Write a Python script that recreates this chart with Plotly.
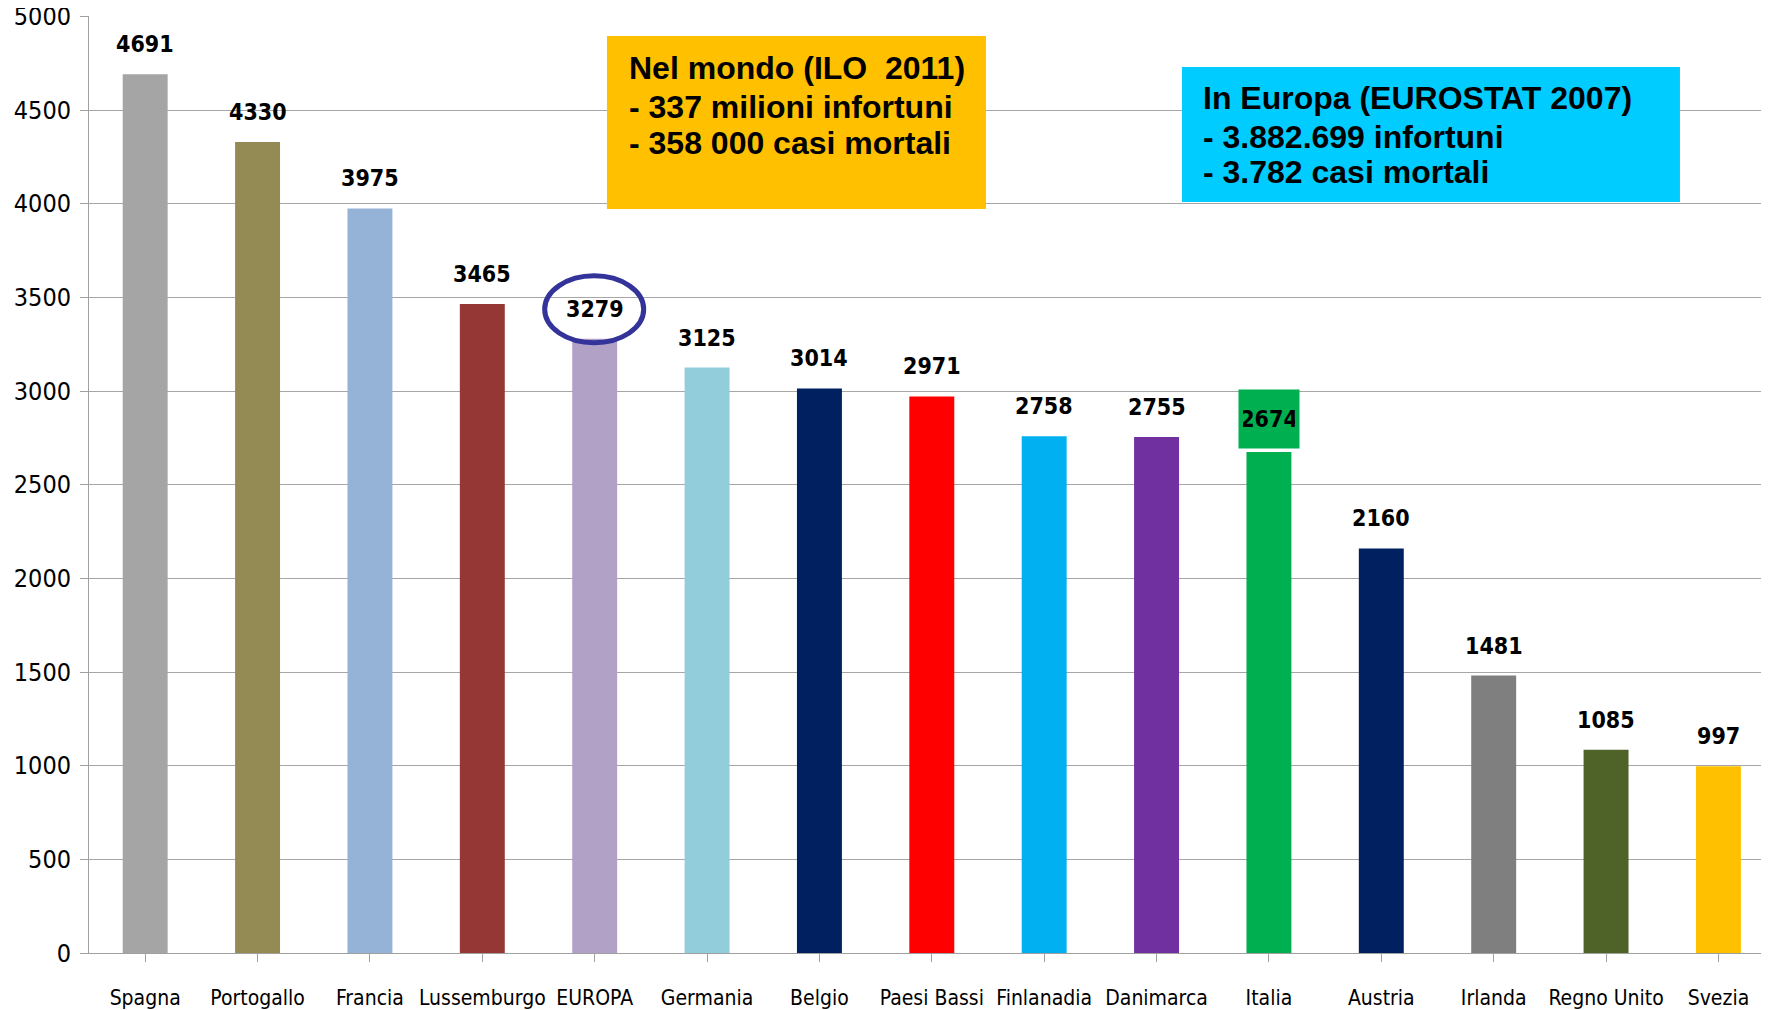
import plotly.graph_objects as go

# Dati
paesi = ["Spagna", "Portogallo", "Francia", "Lussemburgo", "EUROPA", "Germania",
         "Belgio", "Paesi Bassi", "Finlanadia", "Danimarca", "Italia", "Austria",
         "Irlanda", "Regno Unito", "Svezia"]
valori = [4691, 4330, 3975, 3465, 3279, 3125, 3014, 2971, 2758, 2755, 2674, 2160,
          1481, 1085, 997]
colori = ["#A5A5A5", "#948A54", "#95B3D7", "#953735", "#B2A1C7", "#92CDDC",
          "#002060", "#FF0000", "#00B0F0", "#7030A0", "#00B050", "#002060",
          "#7F7F7F", "#4F6228", "#FFC000"]
y_ticks = [0, 500, 1000, 1500, 2000, 2500, 3000, 3500, 4000, 4500, 5000]

righe_mondo = ["Nel mondo (ILO  2011)", "- 337 milioni infortuni", "- 358 000 casi mortali"]
righe_europa = ["In Europa (EUROSTAT 2007)", "- 3.882.699 infortuni", "- 3.782 casi mortali"]

FONT_NARROW = "DejaVu Sans Condensed, Liberation Sans Narrow, Roboto, sans-serif"
FONT_BOX = "Liberation Sans, Arial, sans-serif"

fig = go.Figure()

fig.add_bar(
    x=list(range(len(paesi))),
    y=valori,
    width=0.4,
    marker=dict(color=colori, line=dict(width=0)),
    showlegend=False,
)

# etichette dei valori
for i, v in enumerate(valori):
    if paesi[i] == "Italia":
        fig.add_annotation(
            x=i, y=v, text=f"<b>{v}</b>", showarrow=False,
            yanchor="middle", yshift=33,
            bgcolor="#00B050", width=52, height=50, borderpad=4,
            font=dict(family=FONT_NARROW, size=23, color="black"),
        )
    else:
        fig.add_annotation(
            x=i, y=v, text=f"<b>{v}</b>", showarrow=False,
            yanchor="middle", yshift=30,
            font=dict(family=FONT_NARROW, size=23, color="black"),
        )

# cerchio su EUROPA
i_eu = paesi.index("EUROPA")
fig.add_shape(
    type="circle", xref="x", yref="y",
    xsizemode="pixel", ysizemode="pixel",
    xanchor=i_eu, yanchor=valori[i_eu],
    x0=-50, x1=49, y0=-4, y1=63,
    line=dict(color="#333399", width=5),
)

# riquadri di testo
fig.add_shape(type="rect", xref="paper", yref="paper",
              x0=0.3083, x1=0.5339, y0=0.7940, y1=0.9787,
              fillcolor="#FFC000", line=dict(width=0))
for riga, ypos in zip(righe_mondo, [0.9445, 0.9029, 0.8645]):
    fig.add_annotation(xref="paper", yref="paper", x=0.3202, y=ypos,
                       xanchor="left", yanchor="middle", showarrow=False,
                       text=f"<b>{riga}</b>",
                       font=dict(family=FONT_BOX, size=32, color="black"))

fig.add_shape(type="rect", xref="paper", yref="paper",
              x0=0.6506, x1=0.9470, y0=0.8015, y1=0.9456,
              fillcolor="#00CCFF", line=dict(width=0))
for riga, ypos in zip(righe_europa, [0.9125, 0.8709, 0.8335]):
    fig.add_annotation(xref="paper", yref="paper", x=0.6619, y=ypos,
                       xanchor="left", yanchor="middle", showarrow=False,
                       text=f"<b>{riga}</b>",
                       font=dict(family=FONT_BOX, size=32, color="black"))

fig.update_layout(
    width=1761,
    height=1002,
    plot_bgcolor="white",
    paper_bgcolor="white",
    margin=dict(l=81, r=0, t=8, b=57),
)

fig.update_xaxes(
    tickmode="array",
    tickvals=list(range(len(paesi))),
    ticktext=paesi,
    range=[-0.5, 14.45],
    tickangle=0,
    automargin=False,
    ticklabeloverflow="allow",
    showgrid=False,
    showline=True,
    linecolor="#A0A0A0",
    linewidth=1,
    ticks="outside",
    tickson="boundaries",
    ticklen=8,
    tickcolor="#A0A0A0",
    ticklabelstandoff=18,
    tickfont=dict(family=FONT_NARROW, size=21, color="black"),
)

fig.update_yaxes(
    range=[0, 5002],
    tickvals=y_ticks,
    automargin=False,
    ticklabeloverflow="allow",
    showgrid=True,
    gridcolor="#A6A6A6",
    gridwidth=1,
    zeroline=False,
    showline=True,
    linecolor="#A0A0A0",
    ticks="outside",
    ticklen=8,
    tickcolor="#A0A0A0",
    ticklabelstandoff=4,
    tickfont=dict(family=FONT_NARROW, size=25, color="black"),
)

fig.write_html("out.html")
